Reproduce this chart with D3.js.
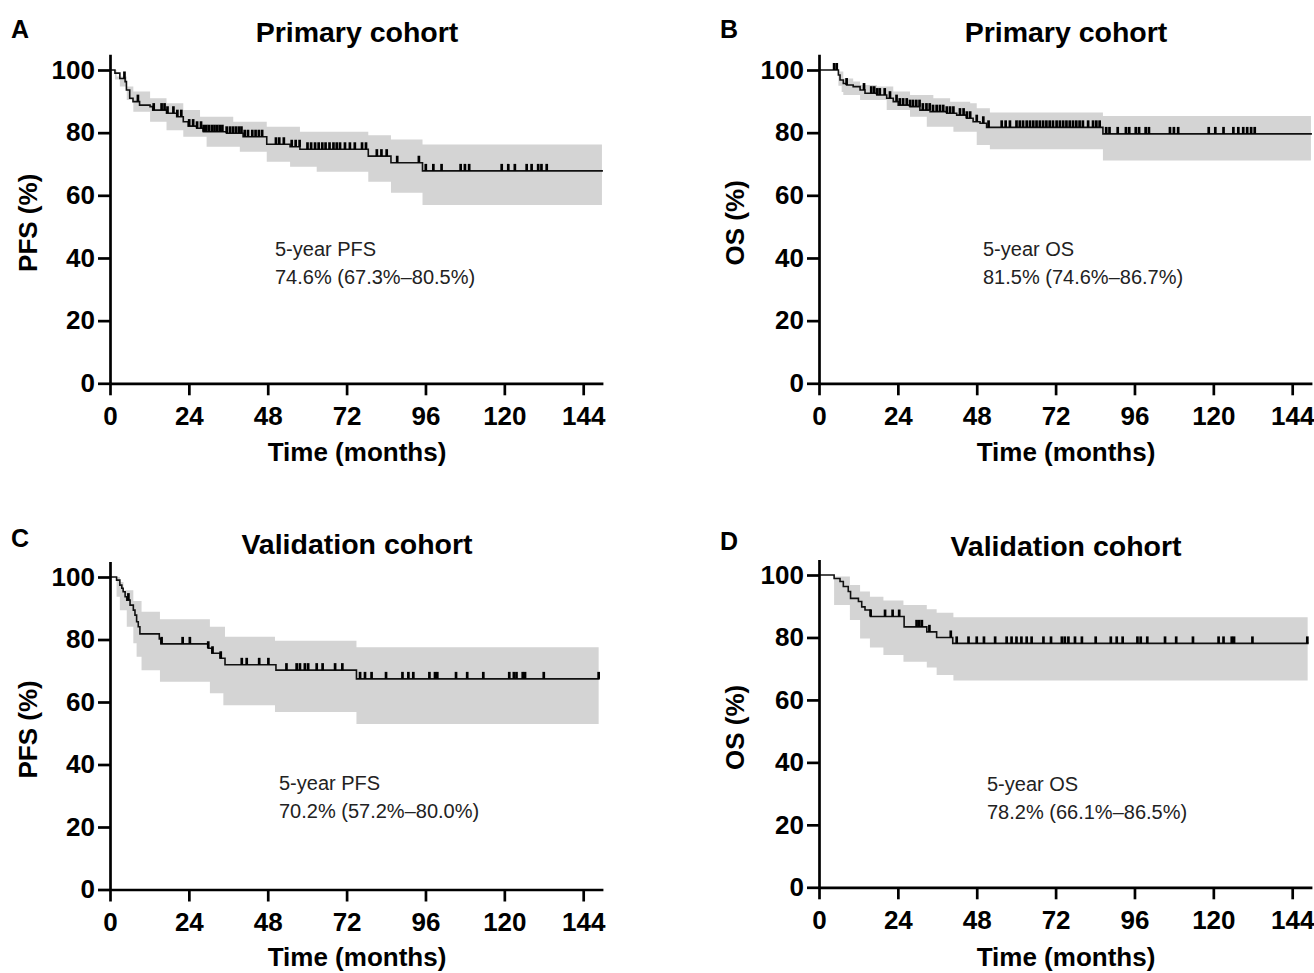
<!DOCTYPE html>
<html>
<head>
<meta charset="utf-8">
<script src="https://cdn.jsdelivr.net/npm/d3@7"></script>
<style>
  body { margin: 0; background: #fff; }
  svg text { font-family: "Liberation Sans", Arial, Helvetica, sans-serif; }
</style>
</head>
<body>
<div id="chart"></div>
<script>
// axis ticks
var xTicks = [0, 24, 48, 72, 96, 120, 144];
var yTicks = [0, 20, 40, 60, 80, 100];

// A: PFS, primary cohort
var aTime = [0, 1.5, 3, 4.6, 5, 6, 7, 9, 12.2, 13, 17.2, 20.3, 22.3, 23.8, 26.4, 28.4, 35.5, 40.5, 47.7, 54.8, 57.8, 78.6, 85.5, 95.1];
var aSurv = [100, 99, 97.3, 96.3, 93.6, 91, 89.9, 88.8, 88.3, 87.2, 86.2, 85.1, 83.5, 82.1, 81.4, 80.3, 79.8, 78.7, 76.3, 75.5, 74.7, 72.5, 70.4, 67.8];
var aUpTime = [0, 2, 5.1, 7.1, 12.2, 17.2, 22.3, 27.4, 37.5, 47.7, 57.8, 78.6, 85.5, 95.1];
var aUpper = [100, 97.9, 94.7, 93.1, 91, 89.4, 87.2, 85.1, 83.5, 81.9, 80.3, 79.2, 77.8, 76.2];
var aLoTime = [0, 1.5, 3, 5.1, 7.1, 12.2, 17.2, 22.3, 29.4, 39.5, 47.7, 54.8, 62.9, 78.6, 85.5, 95.1];
var aLower = [100, 97, 94.7, 90.4, 86.7, 83.5, 80.8, 78.7, 75.5, 73.9, 70.7, 69.1, 67.5, 64.3, 60.8, 56.9];
var aCensor = [4.4, 8.5, 13.3, 15.7, 16.6, 17.5, 19.3, 20.5, 21.7, 24.1, 25.3, 26.5, 27.7, 28.5, 29.3, 30.1, 31, 31.8, 32.6, 33.4, 34.2,
  35.5, 36.5, 37.4, 38.3, 39.2, 40, 41, 42, 43.3, 44.3, 45.3, 46.3, 50.5, 51.5, 52.9, 55.3, 56.5, 57.7, 60.1, 61.2, 62.4, 63.5,
  64.6, 65.6, 66.8, 68, 69, 70, 71.5, 73, 74.5, 76.7, 77.9, 81.2, 82.6, 84.2, 87.4, 94, 96.1, 98.4, 100.9, 106.7, 108, 109.3,
  119.2, 121.2, 123.2, 126.8, 128.3, 130.3, 131.3, 132.9];

// B: OS, primary cohort
var bTime = [0, 5.9, 6.4, 7.4, 8.4, 10.4, 12.5, 14, 17.6, 20.6, 22.6, 24.1, 27.7, 30.7, 33.8, 38.9, 41.9, 44.9, 46.9, 49, 51, 86.4];
var bSurv = [100, 98.4, 96.8, 95.7, 95.2, 94.7, 93.6, 92.6, 92, 91, 89.9, 88.8, 88.3, 87.2, 86.7, 86.2, 85.6, 84.6, 83.5, 83, 81.7, 79.6];
var bUpTime = [0, 5.9, 7.4, 10.4, 12.5, 17.6, 22.6, 27.7, 34.8, 39.9, 46, 48, 52, 86.4];
var bUpper = [100, 99.5, 97.3, 96.3, 95.2, 94.7, 93.1, 92, 91, 89.9, 89.4, 87.8, 86.4, 85.3];
var bLoTime = [0, 5.9, 6.9, 7.4, 12.5, 20.6, 27.7, 32.8, 40.9, 48, 52, 86.4];
var bLower = [100, 95, 93, 92, 90.4, 87.2, 85.1, 81.9, 80.3, 76.1, 74.7, 71.1];
var bCensor = [4.6, 5.4, 8.4, 13.7, 15.9, 16.8, 17.7, 18.5, 20, 21.6, 23.6, 24.6, 25.6, 26.7, 27.7, 28.6, 29.6, 30.6, 31.6, 32.7,
  33.7, 34.7, 35.8, 36.8, 37.8, 38.9, 39.9, 40.9, 42.9, 44, 45, 46, 48, 50, 51.6, 55.6, 56.8, 58.1, 60.1, 61.1, 62.1, 63.2, 64.2,
  65.2, 66.2, 67.2, 68.2, 69.2, 70.2, 71.2, 72.3, 73.3, 74.3, 75.3, 76.3, 77.3, 78.3, 79.3, 80.3, 81.9, 83.4, 84.4, 85.4, 87.4,
  88.4, 90.9, 93.4, 94.4, 96.4, 97.4, 99.4, 100.4, 106.8, 108, 109.3, 118.6, 120.6, 123.1, 126.1, 127.6, 129.1, 130.3, 131.5, 132.6];

// C: PFS, validation cohort
var cTime = [0, 2, 3, 3.6, 4, 4.6, 5.1, 6.1, 7.1, 7.6, 8.1, 8.6, 9.1, 15, 15.5, 29.9, 31, 33.5, 35, 50.5, 75];
var cSurv = [100, 99, 97.4, 96.4, 95.3, 93.7, 92.6, 91, 89.4, 87.8, 85.7, 84.1, 81.8, 80.2, 78.6, 77.2, 75.6, 74, 71.9, 70.2, 67.4];
var cUpTime = [0, 3, 4.1, 7.1, 9.6, 15.2, 30.4, 35, 50.2, 75];
var cUpper = [100, 98.4, 95.8, 92.3, 88.9, 86.5, 84.1, 80.9, 79.6, 77.5];
var cLoTime = [0, 2, 3, 5.1, 7.1, 8.1, 9.6, 15.2, 30.4, 34.5, 50.2, 75];
var cLower = [100, 93.7, 89.4, 84.1, 78.8, 74.5, 70.2, 66.5, 62.8, 59, 56.8, 53];
var cCensor = [5.6, 15.7, 22.1, 24.3, 29.9, 31.2, 33.7, 40.1, 41.6, 45.4, 48.2, 53.7, 56.8, 57.8, 59.3, 60.3, 62.9, 64.7, 68.5,
  70.7, 76.1, 77.6, 79.6, 84, 89, 90.8, 92.3, 97.2, 98.9, 99.6, 105.3, 108.7, 113.6, 121.5, 122.9, 123.7, 125.6, 126.3, 132, 148.7];

// D: OS, validation cohort
var dTime = [0, 4.6, 6.4, 7.4, 8.9, 9.6, 12, 13, 14, 15.7, 25.9, 32.8, 35.8, 40.7];
var dSurv = [100, 98.9, 97.9, 96.3, 94.7, 92.5, 91.5, 89.8, 88.8, 86.7, 83.4, 81.8, 80, 78.1];
var dUpTime = [0, 4.6, 9.4, 12.5, 15.5, 19.6, 25.7, 32.8, 35.8, 40.9];
var dUpper = [100, 99.5, 96.8, 94.7, 93, 91.8, 90.4, 89, 87.9, 86.5];
var dLoTime = [0, 4.6, 9.4, 12.5, 15.5, 19.6, 25.7, 32.8, 35.8, 40.9];
var dLower = [100, 90.4, 85.6, 79.7, 76.8, 74.4, 72.2, 70.4, 68, 66.2];
var dCensor = [15.7, 20.1, 22.4, 24.4, 29.7, 30.5, 31.3, 33.6, 40.1, 41.9, 45.5, 48, 50.2, 53.6, 57.1, 58.6, 60.1, 61.6, 63.2,
  64.7, 68.3, 70.6, 73.9, 74.8, 75.9, 77.9, 80, 84.2, 88.8, 90.6, 92.4, 96.9, 97.9, 99.9, 105.3, 108.7, 113.8, 121.6, 123.1,
  125.6, 126.3, 131.9, 148.6];

var panels = [
  { letter: "A", title: "Primary cohort", yLabel: "PFS (%)", note: ["5-year PFS", "74.6% (67.3%\u201380.5%)"],
    time: aTime, surv: aSurv, upT: aUpTime, up: aUpper, loT: aLoTime, lo: aLower, censor: aCensor, end: 150,
    left: 110, bottom: 383.3, top100: 70, letterY: 38, titleY: 42, noteX: 275, noteY: 256, xTitleY: 461, yTitleX: 28 },
  { letter: "B", title: "Primary cohort", yLabel: "OS (%)", note: ["5-year OS", "81.5% (74.6%\u201386.7%)"],
    time: bTime, surv: bSurv, upT: bUpTime, up: bUpper, loT: bLoTime, lo: bLower, censor: bCensor, end: 150,
    left: 819, bottom: 383.3, top100: 70, letterY: 38, titleY: 42, noteX: 983, noteY: 256, xTitleY: 461, yTitleX: 735 },
  { letter: "C", title: "Validation cohort", yLabel: "PFS (%)", note: ["5-year PFS", "70.2% (57.2%\u201380.0%)"],
    time: cTime, surv: cSurv, upT: cUpTime, up: cUpper, loT: cLoTime, lo: cLower, censor: cCensor, end: 149,
    left: 110, bottom: 889.5, top100: 577, letterY: 547, titleY: 554, noteX: 279, noteY: 790, xTitleY: 966, yTitleX: 28 },
  { letter: "D", title: "Validation cohort", yLabel: "OS (%)", note: ["5-year OS", "78.2% (66.1%\u201386.5%)"],
    time: dTime, surv: dSurv, upT: dUpTime, up: dUpper, loT: dLoTime, lo: dLower, censor: dCensor, end: 149,
    left: 819, bottom: 887.3, top100: 575, letterY: 550, titleY: 556, noteX: 987, noteY: 791, xTitleY: 966, yTitleX: 735 }
];

var svg = d3.select("#chart").append("svg")
    .attr("width", 1314)
    .attr("height", 973);

function stepAt(times, vals, t) {
    var i = d3.bisectRight(times, t) - 1;
    return vals[Math.max(0, i)];
}

panels.forEach(function(p) {
    var pxPerMonth = 473.2 / 144;
    var x = d3.scaleLinear().domain([0, 150]).range([p.left, p.left + 150 * pxPerMonth]);
    var unit = (p.bottom - p.top100) / 100;
    var y = d3.scaleLinear().domain([0, 105]).range([p.bottom, p.bottom - 105 * unit]);
    var g = svg.append("g");

    // confidence band
    var bandT = Array.from(new Set(p.upT.concat(p.loT))).sort(d3.ascending);
    bandT.push(p.end - 0.3);
    g.append("path")
        .datum(bandT)
        .attr("d", d3.area()
            .x(function(t) { return x(t); })
            .y0(function(t) { return y(stepAt(p.loT, p.lo, t)); })
            .y1(function(t) { return y(stepAt(p.upT, p.up, t)); })
            .curve(d3.curveStepAfter))
        .style("fill", "#d4d4d4")
        .style("stroke", "none");

    // survival curve
    var pts = p.time.map(function(t, i) { return [t, p.surv[i]]; });
    pts.push([p.end, p.surv[p.surv.length - 1]]);
    g.append("path")
        .datum(pts)
        .attr("d", d3.line()
            .x(function(d) { return x(d[0]); })
            .y(function(d) { return y(d[1]); })
            .curve(d3.curveStepAfter))
        .style("fill", "none")
        .style("stroke", "#111")
        .style("stroke-width", 1.6);

    // censor marks
    g.selectAll("line.censor")
        .data(p.censor)
        .enter().append("line")
        .attr("class", "censor")
        .attr("x1", function(t) { return x(t); })
        .attr("x2", function(t) { return x(t); })
        .attr("y1", function(t) { return y(stepAt(p.time, p.surv, t)); })
        .attr("y2", function(t) { return y(stepAt(p.time, p.surv, t)) - 7; })
        .style("stroke", "#000")
        .style("stroke-width", 2.7);

    // axes
    var xAxis = g.append("g")
        .attr("transform", "translate(0," + p.bottom + ")")
        .call(d3.axisBottom(x).tickValues(xTicks).tickSize(12).tickSizeOuter(0).tickPadding(11));
    var yAxis = g.append("g")
        .attr("transform", "translate(" + p.left + ",0)")
        .call(d3.axisLeft(y).tickValues(yTicks).tickSize(12).tickSizeOuter(0).tickPadding(3));
    [xAxis, yAxis].forEach(function(ax) {
        ax.select(".domain").style("stroke", "#000").style("stroke-width", 2.7);
        ax.selectAll(".tick line").style("stroke", "#000").style("stroke-width", 2.7);
        ax.selectAll(".tick text")
            .style("font-family", "'Liberation Sans', Arial, sans-serif")
            .style("font-size", "26px")
            .style("font-weight", "bold")
            .style("fill", "#000");
    });

    var cx = p.left + 247;

    svg.append("text")
        .attr("x", p.left - 99)
        .attr("y", p.letterY)
        .style("font-size", "25px")
        .style("font-weight", "bold")
        .text(p.letter);

    svg.append("text")
        .attr("x", cx)
        .attr("y", p.titleY)
        .attr("text-anchor", "middle")
        .style("font-size", "28.5px")
        .style("font-weight", "bold")
        .text(p.title);

    svg.append("text")
        .attr("x", cx)
        .attr("y", p.xTitleY)
        .attr("text-anchor", "middle")
        .style("font-size", "26px")
        .style("font-weight", "bold")
        .text("Time (months)");

    var yMid = (y(0) + y(105)) / 2 + 4;
    svg.append("text")
        .attr("transform", "translate(" + (p.yTitleX + 9) + "," + yMid + ") rotate(-90)")
        .attr("text-anchor", "middle")
        .style("font-size", "26px")
        .style("font-weight", "bold")
        .text(p.yLabel);

    var note = svg.append("text")
        .attr("x", p.noteX)
        .attr("y", p.noteY)
        .style("font-size", "20px")
        .style("fill", "#222");
    note.selectAll("tspan")
        .data(p.note)
        .enter().append("tspan")
        .attr("x", p.noteX)
        .attr("dy", function(d, i) { return i === 0 ? 0 : 28; })
        .text(function(d) { return d; });
});
</script>
</body>
</html>
